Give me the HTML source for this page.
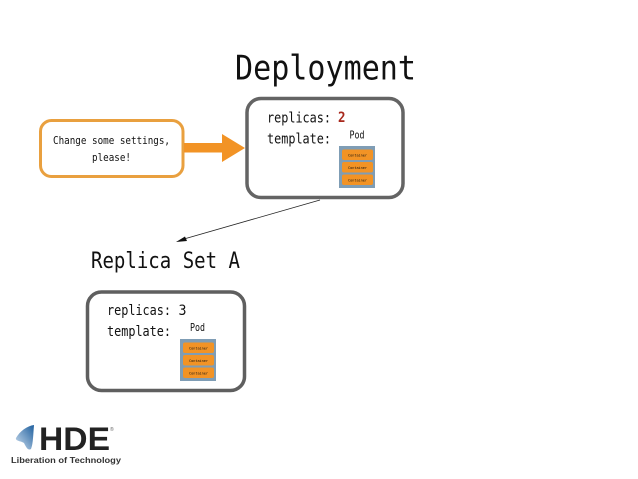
<!DOCTYPE html>
<html><head><meta charset="utf-8"><style>html,body{margin:0;padding:0;background:#fff}svg{display:block;filter:blur(0.35px)}text{font-family:"DejaVu Sans Mono","Liberation Mono",monospace;fill:#111}</style></head><body>
<svg width="638" height="479" viewBox="0 0 638 479" xmlns="http://www.w3.org/2000/svg">
<rect width="638" height="479" fill="#fff"/>
<text x="235" y="79.500" font-size="34" textLength="181" lengthAdjust="spacingAndGlyphs">Deployment</text>
<rect x="40.500" y="120.500" width="142.500" height="56" rx="11" fill="#fff" stroke="#e9a03f" stroke-width="3"/>
<text x="53" y="144" font-size="10.500" textLength="117" lengthAdjust="spacingAndGlyphs">Change some settings,</text>
<text x="92" y="161" font-size="10.500" textLength="39" lengthAdjust="spacingAndGlyphs">please!</text>
<path d="M184 143H222V134L245 148L222 162V152.500H184Z" fill="#f29325"/>
<rect x="247" y="98.500" width="156" height="99" rx="14" fill="#fff" stroke="#646464" stroke-width="3.500"/>
<text x="267" y="122.500" font-size="14" textLength="64" lengthAdjust="spacingAndGlyphs">replicas:</text>
<text x="338" y="122" font-size="14" font-weight="bold" textLength="7.500" lengthAdjust="spacingAndGlyphs" style="fill:#a8281c">2</text>
<text x="267" y="143.500" font-size="14" textLength="64" lengthAdjust="spacingAndGlyphs">template:</text>
<text x="349.500" y="138.500" font-size="11" textLength="15" lengthAdjust="spacingAndGlyphs">Pod</text>
<rect x="339" y="146" width="36" height="42" fill="#7f9db5"/>
<rect x="342" y="149.500" width="31" height="10.500" rx="2" fill="#f29325"/>
<rect x="342" y="162" width="31" height="10.500" rx="2" fill="#f29325"/>
<rect x="342" y="174.500" width="31" height="10.500" rx="2" fill="#f29325"/>
<text x="348" y="156.500" font-size="3.500" textLength="19" lengthAdjust="spacingAndGlyphs">Container</text>
<text x="348" y="169" font-size="3.500" textLength="19" lengthAdjust="spacingAndGlyphs">Container</text>
<text x="348" y="181.500" font-size="3.500" textLength="19" lengthAdjust="spacingAndGlyphs">Container</text>
<line x1="320" y1="200" x2="184" y2="239" stroke="#222" stroke-width="0.8"/>
<path d="M176 242L185 236.500L187 241Z" fill="#111"/>
<text x="91" y="268" font-size="22" textLength="149" lengthAdjust="spacingAndGlyphs">Replica Set A</text>
<rect x="87.500" y="292" width="157" height="98.500" rx="14" fill="#fff" stroke="#5f5f5f" stroke-width="3.500"/>
<text x="107" y="315" font-size="14" textLength="64" lengthAdjust="spacingAndGlyphs">replicas:</text>
<text x="178.500" y="315" font-size="14" textLength="8" lengthAdjust="spacingAndGlyphs">3</text>
<text x="107" y="336" font-size="14" textLength="64" lengthAdjust="spacingAndGlyphs">template:</text>
<text x="190" y="331" font-size="11" textLength="15" lengthAdjust="spacingAndGlyphs">Pod</text>
<rect x="180" y="339" width="36" height="42" fill="#7f9db5"/>
<rect x="183" y="342.500" width="31" height="10.500" rx="2" fill="#f29325"/>
<rect x="183" y="355" width="31" height="10.500" rx="2" fill="#f29325"/>
<rect x="183" y="367.500" width="31" height="10.500" rx="2" fill="#f29325"/>
<text x="189" y="349.500" font-size="3.500" textLength="19" lengthAdjust="spacingAndGlyphs">Container</text>
<text x="189" y="362" font-size="3.500" textLength="19" lengthAdjust="spacingAndGlyphs">Container</text>
<text x="189" y="374.500" font-size="3.500" textLength="19" lengthAdjust="spacingAndGlyphs">Container</text>
<defs><linearGradient id="g" x1="1" y1="0" x2="0" y2="1"><stop offset="0" stop-color="#1f5f9e"/><stop offset="1" stop-color="#cfe0f0"/></linearGradient></defs>
<path d="M34 425C27 426 20 431 16 438C15 441 21 441 24 443C26 447 28 451 31 449C33 444 33 438 34 425Z" fill="url(#g)"/>
<text x="39" y="450" font-size="32" font-weight="bold" textLength="71" lengthAdjust="spacingAndGlyphs" style="font-family:'Liberation Sans',sans-serif;fill:#222">HDE</text>
<text x="110" y="431" font-size="5" style="font-family:'Liberation Sans',sans-serif;fill:#666">®</text>
<text x="11" y="463" font-size="8" font-weight="bold" textLength="110" lengthAdjust="spacingAndGlyphs" style="font-family:'Liberation Sans',sans-serif;fill:#333">Liberation of Technology</text>
</svg>
</body></html>
